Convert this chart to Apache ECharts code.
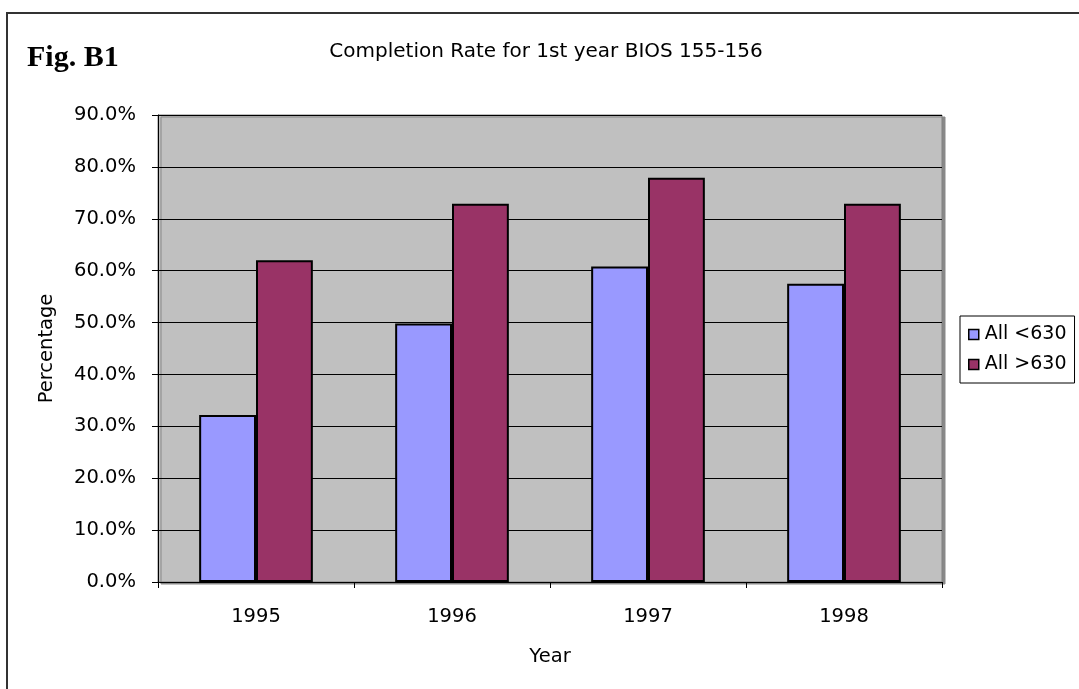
<!DOCTYPE html>
<html>
<head>
<meta charset="utf-8">
<script src="https://cdn.jsdelivr.net/npm/echarts@6/dist/echarts.min.js"></script>
<style>
  html, body { margin: 0; padding: 0; background: #fff; }
  #chart { width: 1079px; height: 689px; }
</style>
</head>
<body>
<div id="chart"></div>
<script>
// data
var years = ['1995', '1996', '1997', '1998'];
var below630 = [32.2, 49.8, 60.8, 57.5];
var above630 = [62.0, 72.9, 77.9, 72.9];
var seriesNames = ['All <630', 'All >630'];

var font = 'DejaVu Sans';
var chart = echarts.init(document.getElementById('chart'));

var option = {
  backgroundColor: '#fff',
  animation: false,
  title: {
    text: 'Completion Rate for 1st year BIOS 155-156',
    left: 541,
    top: 37,
    textAlign: 'center',
    textStyle: { fontFamily: font, fontSize: 20, fontWeight: 'normal', color: '#000' }
  },
  graphic: [
    {
      // outer frame
      type: 'rect',
      shape: { x: 7, y: 13, width: 1200, height: 800 },
      style: { fill: 'none', stroke: '#333', lineWidth: 2 },
      silent: true
    },
    {
      type: 'text',
      left: 27,
      top: 43,
      style: { text: 'Fig. B1', font: 'bold 30px "Liberation Serif"', fill: '#000' }
    }
  ],
  legend: {
    orient: 'vertical',
    left: 960,
    top: 316,
    padding: [9, 8, 9, 8],
    itemGap: 11,
    itemWidth: 10,
    itemHeight: 10,
    borderColor: '#000',
    borderWidth: 1,
    icon: 'rect',
    data: seriesNames,
    itemStyle: { borderColor: '#000', borderWidth: 1.5 },
    textStyle: { fontFamily: font, fontSize: 19, color: '#000', padding: [0, 0, 0, 1] }
  },
  grid: {
    left: 158,
    right: 137,
    top: 115,
    bottom: 107,
    show: true,
    backgroundColor: '#c0c0c0',
    borderColor: '#808080',
    borderWidth: 1,
    shadowColor: '#888',
    shadowOffsetX: 3,
    shadowOffsetY: 2
  },
  xAxis: {
    type: 'category',
    data: years,
    name: 'Year',
    nameLocation: 'middle',
    nameGap: 65,
    nameTextStyle: { fontFamily: font, fontSize: 19.5, color: '#000' },
    axisLine: { lineStyle: { color: '#000', width: 1 } },
    axisTick: { show: true, length: 6, alignWithLabel: false, lineStyle: { color: '#000' } },
    axisLabel: { margin: 25, fontFamily: font, fontSize: 19.5, color: '#000' }
  },
  yAxis: {
    type: 'value',
    min: 0,
    max: 90,
    interval: 10,
    name: 'Percentage',
    nameLocation: 'middle',
    nameRotate: 90,
    nameGap: 101,
    nameTextStyle: { fontFamily: font, fontSize: 19.5, color: '#000' },
    axisLine: { show: true, lineStyle: { color: '#000', width: 1 } },
    axisTick: { show: true, length: 6, lineStyle: { color: '#000' } },
    splitLine: { show: true, lineStyle: { color: '#000', width: 1 } },
    axisLabel: {
      margin: 22,
      fontFamily: font,
      fontSize: 19.5,
      color: '#000',
      formatter: function (v) { return v.toFixed(1) + '%'; }
    }
  },
  series: [
    {
      name: seriesNames[0],
      type: 'bar',
      data: below630,
      barGap: '0%',
      barCategoryGap: '42%',
      itemStyle: { color: '#9999ff', borderColor: '#000', borderWidth: 2 }
    },
    {
      name: seriesNames[1],
      type: 'bar',
      data: above630,
      itemStyle: { color: '#993366', borderColor: '#000', borderWidth: 2 }
    }
  ]
};

chart.setOption(option);
</script>
</body>
</html>
